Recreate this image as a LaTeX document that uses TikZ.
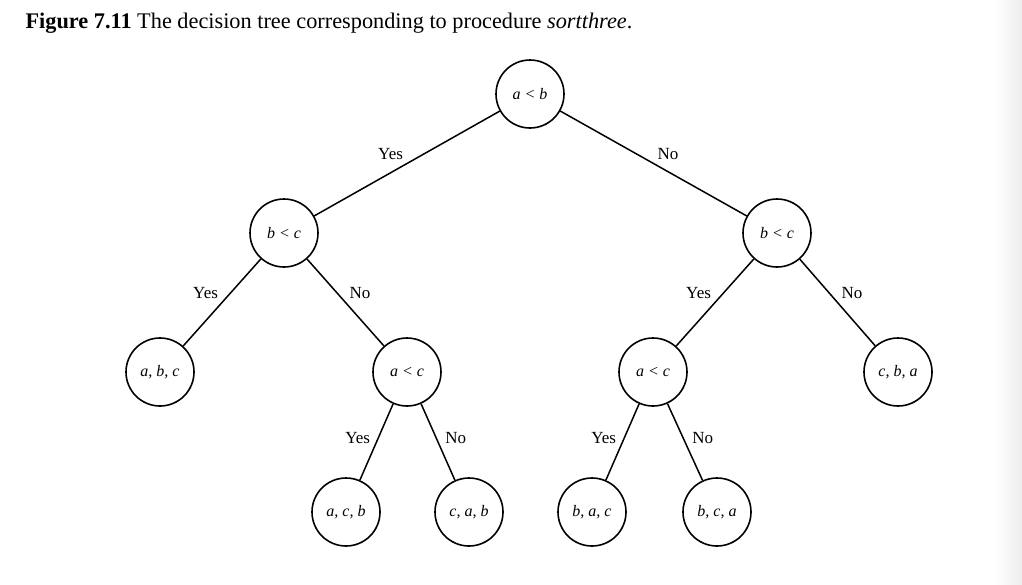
\documentclass[tikz,border=0pt]{standalone}
\usepackage{fontspec}
\setmainfont{Liberation Serif}
\usetikzlibrary{positioning}

\begin{document}
\begin{tikzpicture}[
  x=1pt, y=-1pt,
  on grid,
  test/.style={circle, draw, line width=1.6pt, minimum size=68pt, inner sep=0pt,
    font=\fontsize{16}{19}\selectfont\itshape},
  leaf/.style={test},
  lbl/.style={font=\fontsize{17}{20}\selectfont},
  br/.style={line width=1.5pt}
]
  \useasboundingbox (0,0) rectangle (1022,584);
  \shade[left color=white, right color=black!7] (994,0) rectangle (1022,584);

  \node[anchor=base west, font=\fontsize{22.3}{26}\selectfont] (cap) at (22,28)
    {\textbf{Figure 7.11} The decision tree corresponding to procedure \textit{sortthree}.};

  \node[test] (ab) at (530,94) {a < b};
  \node[test, below left=139pt and 246pt of ab]  (bcL) {b < c};
  \node[test, below right=139pt and 247pt of ab] (bcR) {b < c};
  \node[leaf, below left=139pt and 124pt of bcL]  (abc) {a, b, c};
  \node[test, below right=139pt and 123pt of bcL] (acL) {a < c};
  \node[test, below left=139pt and 124pt of bcR]  (acR) {a < c};
  \node[leaf, below right=139pt and 121pt of bcR] (cba) {c, b, a};
  \node[leaf, below left=140pt and 61pt of acL]  (acb) {a, c, b};
  \node[leaf, below right=140pt and 62pt of acL] (cab) {c, a, b};
  \node[leaf, below left=140pt and 61pt of acR]  (bac) {b, a, c};
  \node[leaf, below right=140pt and 64pt of acR] (bca) {b, c, a};

  \draw[br] (ab)  -- node[lbl, above left]  {Yes} (bcL);
  \draw[br] (ab)  -- node[lbl, above right] {No}  (bcR);
  \draw[br] (bcL) -- node[lbl, above left]  {Yes} (abc);
  \draw[br] (bcL) -- node[lbl, above right] {No}  (acL);
  \draw[br] (bcR) -- node[lbl, above left]  {Yes} (acR);
  \draw[br] (bcR) -- node[lbl, above right] {No}  (cba);
  \draw[br] (acL) -- node[lbl, pos=0.45, left=4pt]  {Yes} (acb);
  \draw[br] (acL) -- node[lbl, pos=0.45, right=5pt] {No}  (cab);
  \draw[br] (acR) -- node[lbl, pos=0.45, left=4pt]  {Yes} (bac);
  \draw[br] (acR) -- node[lbl, pos=0.45, right=5pt] {No}  (bca);
\end{tikzpicture}
\end{document}
